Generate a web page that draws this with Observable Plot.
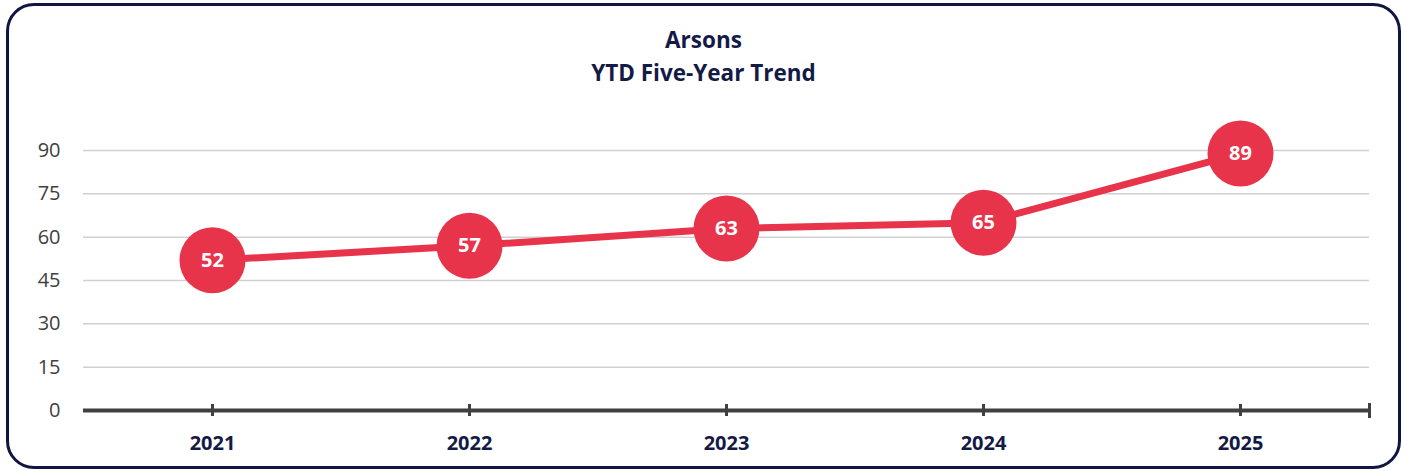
<!DOCTYPE html>
<html>
<head>
<meta charset="utf-8">
<script src="https://cdn.jsdelivr.net/npm/d3@7"></script>
<script src="https://cdn.jsdelivr.net/npm/@observablehq/plot@0.6"></script>
<style>
  html, body { margin: 0; padding: 0; background: #fff; }
  #wrap { position: relative; width: 1407px; height: 471px; overflow: hidden; font-family: "Open Sans", sans-serif; }
  #box { position: absolute; left: 6px; top: 3px; width: 1389px; height: 460px; border: 3px solid #10163f; border-radius: 28px; }
  #title { position: absolute; left: 0; top: 23px; width: 1407px; text-align: center; color: #141a46; font-weight: 700; font-size: 22.5px; line-height: 33px; }
  #chart { position: absolute; left: 0; top: 0; }
</style>
</head>
<body>
<div id="wrap">
  <div id="box"></div>
  <div id="title"><div>Arsons</div><div>YTD Five-Year Trend</div></div>
  <div id="chart"></div>
</div>
<script>
const years = ["2021", "2022", "2023", "2024", "2025"];
const arsons = [52, 57, 63, 65, 89];
const yTicks = [0, 15, 30, 45, 60, 75, 90];

const data = years.map((y, i) => ({year: y, value: arsons[i]}));
const red = "#e8344a";

const chart = Plot.plot({
  width: 1407,
  height: 471,
  marginLeft: 83,
  marginRight: 38,
  marginTop: 150,
  marginBottom: 61,
  style: { fontFamily: "Open Sans, sans-serif", background: "transparent", overflow: "visible" },
  x: { type: "point", domain: years, padding: 0.5, label: null },
  y: { domain: [0, 90], ticks: yTicks, label: null },
  marks: [
    Plot.ruleY(yTicks.filter(d => d > 0), { stroke: "#d0d0d0", strokeWidth: 1.5 }),
    Plot.axisY({ ticks: yTicks, tickSize: 0, tickPadding: 23, fontSize: 20, fill: "#404040", label: null }),
    Plot.axisX({ tickSize: 0, tickPadding: 25, fontSize: 20, fontWeight: 700, fill: "#141a46", label: null }),
    Plot.ruleY([0], { stroke: "#404040", strokeWidth: 4 }),
    Plot.ruleX(years, { x: d => d, y1: 0, y2: 0, insetTop: -6, insetBottom: -6, stroke: "#404040", strokeWidth: 3 }),
    Plot.frame({ anchor: "right", insetTop: 254, insetBottom: -6, stroke: "#404040", strokeWidth: 3 }),
    Plot.line(data, { x: "year", y: "value", stroke: red, strokeWidth: 7 }),
    Plot.dot(data, { x: "year", y: "value", r: 33, fill: red, stroke: "none" }),
    Plot.text(data, { x: "year", y: "value", text: d => String(d.value), fill: "#fff", fontSize: 20, fontWeight: 700 })
  ]
});
document.getElementById("chart").appendChild(chart);
</script>
</body>
</html>
